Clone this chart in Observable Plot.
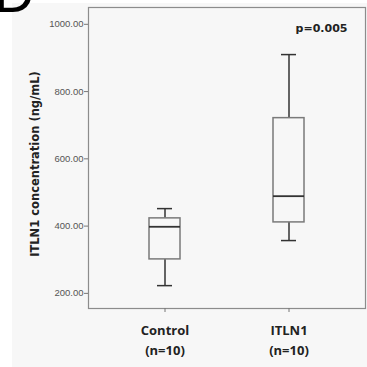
<!DOCTYPE html>
<html>
<head>
<meta charset="utf-8">
<script src="https://cdn.jsdelivr.net/npm/d3@7"></script>
<script src="https://cdn.jsdelivr.net/npm/@observablehq/plot@0.6"></script>
<style>
  html, body { margin: 0; padding: 0; background: #fff; }
  #wrap { position: relative; width: 367px; height: 367px; overflow: hidden; }
  #bg { position: absolute; left: 12px; top: 3px; right: 0; bottom: 0; background: #f7f7f7; }
  #letter { position: absolute; left: -6px; top: -35px; font: 56px "Liberation Sans", Arial, sans-serif; line-height: 1; color: #000; }
  #chart { position: absolute; left: 0; top: 0; }
  #chart svg { background: transparent; }
</style>
</head>
<body>
<div id="wrap">
  <div id="bg"></div>
  <div id="chart"></div>
  <div id="letter">D</div>
</div>
<script>
const groups = ["Control", "ITLN1"];
const groupLabels = ["Control\n(n=10)", "ITLN1\n(n=10)"];
const mins = [223, 357];
const q1s = [301, 411];
const medians = [398, 489];
const q3s = [423, 721];
const maxs = [452, 910];
const yTicks = [200, 400, 600, 800, 1000];
const yLabel = "ITLN1 concentration (ng/mL)";
const pText = "p=0.005";

const data = groups.map((g, i) => ({
  group: g, min: mins[i], q1: q1s[i], median: medians[i], q3: q3s[i], max: maxs[i]
}));
const labelOf = Object.fromEntries(groups.map((g, i) => [g, groupLabels[i]]));

const dark = "#333";
const boxStroke = "#7a7a7a";

const chart = Plot.plot({
  width: 367,
  height: 367,
  marginLeft: 88,
  marginRight: 2,
  marginTop: 7,
  marginBottom: 59,
  style: { background: "transparent", overflow: "visible" },
  x: { type: "band", domain: groups, paddingInner: 0.752, paddingOuter: 0.484, axis: null },
  y: { domain: [155, 1050], axis: null },
  marks: [
    Plot.ruleX(data, { x: "group", y1: "q3", y2: "max", stroke: dark, strokeWidth: 1.5 }),
    Plot.ruleX(data, { x: "group", y1: "min", y2: "q1", stroke: dark, strokeWidth: 1.5 }),
    Plot.tickY(data, { x: "group", y: "max", stroke: dark, strokeWidth: 1.5, insetLeft: 8, insetRight: 8 }),
    Plot.tickY(data, { x: "group", y: "min", stroke: dark, strokeWidth: 1.5, insetLeft: 8, insetRight: 8 }),
    Plot.barY(data, { x: "group", y1: "q1", y2: "q3", fill: "none", stroke: boxStroke, strokeWidth: 1.5 }),
    Plot.tickY(data, { x: "group", y: "median", stroke: dark, strokeWidth: 1.8 }),
    Plot.frame({ stroke: "#8c8c8c", strokeWidth: 1.2 }),
    Plot.axisY({
      ticks: yTicks, tickFormat: d3.format(".2f"), tickSize: 4, tickPadding: 1,
      stroke: "#777", fill: "#555", fontSize: 9.5, fontFamily: "Liberation Sans, Arial, sans-serif", label: null
    }),
    Plot.axisX({
      tickFormat: d => labelOf[d], tickSize: 4, tickPadding: 8,
      stroke: "#777", fill: "#222", fontSize: 13, fontWeight: "bold",
      fontFamily: "Open Sans, sans-serif", lineHeight: 1.54, label: null
    }),
    Plot.text([yLabel], {
      frameAnchor: "left", textAnchor: "middle", lineAnchor: "middle", rotate: -90, dx: -53, dy: 6,
      fontSize: 11.5, fontWeight: "bold", fontFamily: "DejaVu Sans, sans-serif", fill: "#222"
    }),
    Plot.text([pText], {
      frameAnchor: "top-right", textAnchor: "end", lineAnchor: "middle", dx: -18, dy: 21,
      fontSize: 11, fontWeight: "bold", fontFamily: "DejaVu Sans, sans-serif", fill: "#222"
    })
  ]
});
document.getElementById("chart").appendChild(chart);
</script>
</body>
</html>
